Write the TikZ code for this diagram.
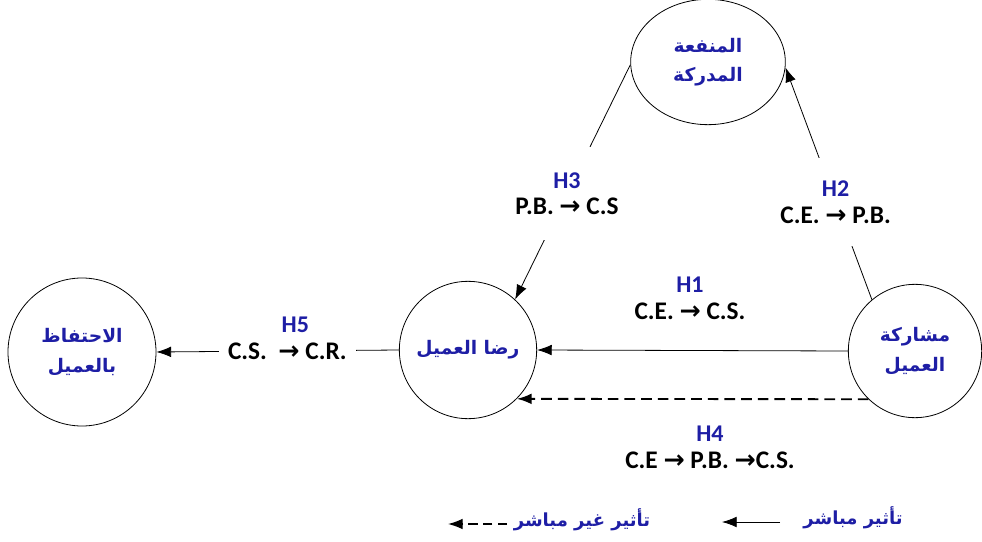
\documentclass[tikz,border=0pt]{standalone}
\usepackage{fontspec}
\setmainfont{Carlito}
\newfontfamily\arabicfont[Script=Arabic]{DejaVu Sans}
\newfontfamily\symfont{DejaVu Sans}
\usetikzlibrary{shapes.geometric,arrows.meta}
\TeXXeTstate=1
\definecolor{navy}{RGB}{30,30,165}
\newcommand{\arr}{{\symfont\bfseries →}}
\newcommand{\hname}[1]{{\color{navy}\fontsize{18}{20}\selectfont #1}}

\begin{document}
\begin{tikzpicture}[x=0.75pt, y=-0.75pt, >={Latex[length=11pt,width=8pt]}, line width=0.6pt,
  var node/.style={circle,draw,inner sep=0pt,align=center,text=navy,font=\arabicfont\bfseries\fontsize{14}{22}\selectfont},
  hyp/.style={align=center,font=\bfseries\fontsize{19}{20}\selectfont},
  legend/.style={text=navy,font=\arabicfont\bfseries\fontsize{13.5}{20}\selectfont}]
\useasboundingbox (0,0) rectangle (982,542);
\begin{scope}
\node[var node,ellipse,minimum width=116pt,minimum height=94pt] (pb) at (708,62) {\beginR المنفعة\endR\\\beginR المدركة\endR};
\node[var node,minimum size=111pt] (cr) at (82,352) {\beginR الاحتفاظ\endR\\\beginR بالعميل\endR};
\node[var node,minimum size=103pt] (cs) at (468,350) {\beginR رضا العميل\endR};
\node[var node,minimum size=100pt] (ce) at (915,351) {\beginR مشاركة\endR\\\beginR العميل\endR};
\end{scope}
% hypotheses
\node[hyp] (h1) at (690,298) {\hname{H1}\\C.E. \arr{} C.S.};
\node[hyp] (h4) at (710,447) {\hname{H4}\\C.E \arr{} P.B. \arr{}C.S.};
\draw[->] (ce.west) -- (cs.east);
\draw[->, line width=1.4pt, dash pattern=on 8pt off 4.5pt] (ce.-134) -- (cs.-45);
\draw[->] (pb.182) -- node[hyp,fill=white,inner ysep=19pt,pos=0.55] (h3) {\hname{H3}\\P.B. \arr{} C.S} (cs.47);
\draw[->] (ce.130) -- node[hyp,fill=white,inner ysep=17pt,pos=0.42] (h2) {\hname{H2}\\C.E. \arr{} P.B.} (pb.-4);
\draw[->] (cs.west) -- node[hyp,fill=white,inner xsep=7pt,inner ysep=2pt,pos=0.46] (h5) {C.S. \ \arr{} C.R.} (cr.east);
\node[hyp,above=4pt,inner sep=1pt] (h5name) at ([xshift=6pt]h5.north) {\hname{H5}};
% legend
\node[legend] (direct) at (853,518) {\beginR تأثير مباشر\endR};
\node[legend,anchor=west] (indirect) at (509,520) {\beginR تأثير غير مباشر\endR};
\coordinate (d1) at (780,522);
\coordinate (d2) at (722,522);
\coordinate (i1) at (507,524);
\coordinate (i2) at (448,524);
\draw[->] (d1) -- (d2);
\draw[->, line width=1pt, dash pattern=on 7pt off 4pt] (i1) -- (i2);
\end{tikzpicture}
\end{document}
